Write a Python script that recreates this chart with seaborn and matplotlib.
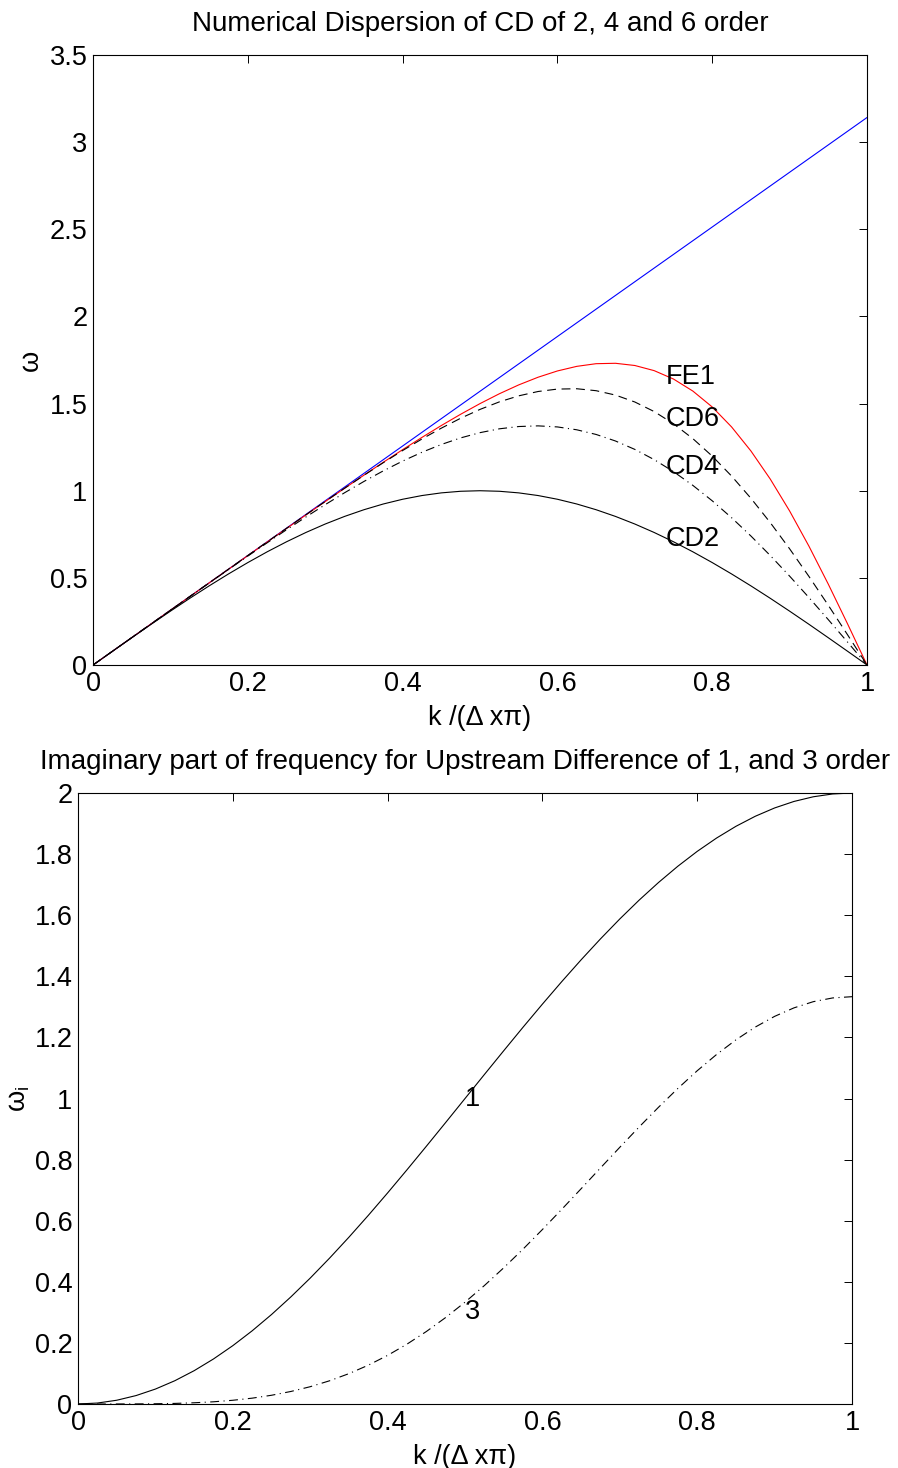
import numpy as np
import matplotlib
matplotlib.use("Agg")
import matplotlib.pyplot as plt
import seaborn as sns

# wavenumber grid k/(dx*pi)
k = np.linspace(0, 1, 41)

# top panel: omega
exact_k = [0, 1]
exact_w = [0, 3.1416]
cd2 = [0, 0.0785, 0.1564, 0.2335, 0.3090, 0.3827, 0.4540, 0.5225, 0.5878, 0.6495,
       0.7071, 0.7604, 0.8090, 0.8526, 0.8910, 0.9239, 0.9511, 0.9724, 0.9877, 0.9969,
       1.0, 0.9969, 0.9877, 0.9724, 0.9511, 0.9239, 0.8910, 0.8526, 0.8090, 0.7604,
       0.7071, 0.6495, 0.5878, 0.5225, 0.4540, 0.3827, 0.3090, 0.2335, 0.1564, 0.0785, 0]
cd4 = [0, 0.0785, 0.1571, 0.2356, 0.3141, 0.3924, 0.4705, 0.5482, 0.6252, 0.7013,
       0.7762, 0.8493, 0.9202, 0.9884, 1.0532, 1.1140, 1.1701, 1.2208, 1.2654, 1.3032,
       1.3333, 1.3553, 1.3684, 1.3722, 1.3661, 1.3497, 1.3229, 1.2854, 1.2372, 1.1785,
       1.1095, 1.0306, 0.9422, 0.8452, 0.7402, 0.6281, 0.5100, 0.3869, 0.2601, 0.1307, 0]
cd6 = [0, 0.0785, 0.1571, 0.2356, 0.3142, 0.3927, 0.4712, 0.5497, 0.6281, 0.7063,
       0.7842, 0.8617, 0.9385, 1.0143, 1.0886, 1.1609, 1.2307, 1.2970, 1.3591, 1.4160,
       1.4667, 1.5099, 1.5445, 1.5694, 1.5833, 1.5852, 1.5740, 1.5489, 1.5092, 1.4543,
       1.3842, 1.2989, 1.1987, 1.0843, 0.9566, 0.8170, 0.6668, 0.5080, 0.3425, 0.1724, 0]
fe1 = [0, 0.0785, 0.1571, 0.2356, 0.3142, 0.3926, 0.4711, 0.5495, 0.6278, 0.7058,
       0.7836, 0.8610, 0.9379, 1.0140, 1.0893, 1.1632, 1.2357, 1.3061, 1.3741, 1.4389,
       1.5, 1.5565, 1.6073, 1.6513, 1.6873, 1.7137, 1.7290, 1.7313, 1.7186, 1.6891,
       1.6408, 1.5718, 1.4806, 1.3662, 1.2281, 1.0668, 0.8838, 0.6815, 0.4636, 0.2347, 0]

# bottom panel: imaginary part
ud1 = [0, 0.0031, 0.0123, 0.0276, 0.0489, 0.0761, 0.1090, 0.1474, 0.1910, 0.2396,
       0.2929, 0.3506, 0.4122, 0.4775, 0.5460, 0.6173, 0.6910, 0.7666, 0.8436, 0.9215,
       1.0, 1.0785, 1.1564, 1.2335, 1.3090, 1.3827, 1.4540, 1.5225, 1.5878, 1.6495,
       1.7071, 1.7604, 1.8090, 1.8526, 1.8910, 1.9239, 1.9511, 1.9724, 1.9877, 1.9969, 2.0]
ud3 = [0, 0.0000, 0.0001, 0.0003, 0.0008, 0.0019, 0.0040, 0.0072, 0.0122, 0.0191,
       0.0286, 0.0410, 0.0566, 0.0760, 0.0994, 0.1270, 0.1592, 0.1959, 0.2372, 0.2831,
       0.3333, 0.3877, 0.4458, 0.5071, 0.5712, 0.6373, 0.7047, 0.7727, 0.8404, 0.9069,
       0.9714, 1.0330, 1.0909, 1.1441, 1.1920, 1.2338, 1.2689, 1.2967, 1.3170, 1.3292, 1.3333]

top_labels = ["FE1", "CD6", "CD4", "CD2"]
top_label_y = [1.65, 1.41, 1.135, 0.725]
bot_labels = ["1", "3"]
bot_label_y = [1.0, 0.3]

sns.set_style("white")
plt.rcParams["font.family"] = ["Liberation Sans", "DejaVu Sans"]
plt.rcParams["mathtext.fontset"] = "custom"
plt.rcParams["mathtext.rm"] = "Liberation Sans"
plt.rcParams["mathtext.it"] = "Liberation Sans"
plt.rcParams["xtick.direction"] = "in"
plt.rcParams["ytick.direction"] = "in"
for key in ("text.color", "axes.labelcolor", "xtick.color", "ytick.color", "axes.edgecolor"):
    plt.rcParams[key] = "black"

DASH = (0, (8, 5))
DASHDOT = (0, (8, 4, 1, 4))
LW = 0.8
FS = 19.5
FS_TITLE = 20

fig = plt.figure(figsize=(8.98, 14.68), dpi=100)
ax1 = fig.add_axes([0.1036, 0.5470, 0.8619, 0.4155])
ax2 = fig.add_axes([0.0869, 0.0436, 0.8619, 0.4162])

sns.lineplot(x=exact_k, y=exact_w, ax=ax1, color="#0000ff", lw=LW)
sns.lineplot(x=k, y=fe1, ax=ax1, color="#ff0000", lw=LW)
sns.lineplot(x=k, y=cd6, ax=ax1, color="k", lw=LW, linestyle=DASH)
sns.lineplot(x=k, y=cd4, ax=ax1, color="k", lw=LW, linestyle=DASHDOT)
sns.lineplot(x=k, y=cd2, ax=ax1, color="k", lw=LW)
for lab, yy in zip(top_labels, top_label_y):
    ax1.text(0.74, yy, lab, fontsize=FS, va="center", ha="left")

sns.lineplot(x=k, y=ud1, ax=ax2, color="k", lw=LW)
sns.lineplot(x=k, y=ud3, ax=ax2, color="k", lw=LW, linestyle=DASHDOT)
for lab, yy in zip(bot_labels, bot_label_y):
    ax2.text(0.5, yy, lab, fontsize=FS, va="center", ha="left")

ax1.set_xlim(0, 1)
ax1.set_ylim(0, 3.5)
ax1.set_xticks([0, 0.2, 0.4, 0.6, 0.8, 1])
ax1.set_xticklabels(["0", "0.2", "0.4", "0.6", "0.8", "1"])
ax1.set_yticks([0, 0.5, 1, 1.5, 2, 2.5, 3, 3.5])
ax1.set_yticklabels(["0", "0.5", "1", "1.5", "2", "2.5", "3", "3.5"])
ax1.set_title("Numerical Dispersion of CD of 2, 4 and 6 order", fontsize=FS_TITLE, pad=17)
ax1.set_ylabel("ω", fontsize=FS)
ax1.yaxis.set_label_coords(-0.063, 0.5)

ax2.set_xlim(0, 1)
ax2.set_ylim(0, 2)
ax2.set_xticks([0, 0.2, 0.4, 0.6, 0.8, 1])
ax2.set_xticklabels(["0", "0.2", "0.4", "0.6", "0.8", "1"])
ax2.set_yticks(np.arange(0, 2.01, 0.2))
ax2.set_yticklabels(["0", "0.2", "0.4", "0.6", "0.8", "1", "1.2", "1.4", "1.6", "1.8", "2"])
ax2.set_title("Imaginary part of frequency for Upstream Difference of 1, and 3 order",
              fontsize=FS_TITLE, pad=17)
ax2.set_ylabel(r"$\omega_i$", fontsize=FS)
ax2.yaxis.set_label_coords(-0.06, 0.5)

for ax in (ax1, ax2):
    ax.set_xlabel("k /(Δ xπ)", fontsize=FS, labelpad=6)
    ax.tick_params(axis="both", which="both", labelsize=FS, length=6, width=0.7,
                   top=True, right=True, color="k", pad=4)
    for sp in ax.spines.values():
        sp.set_visible(True)
        sp.set_color("k")
        sp.set_linewidth(0.8)

fig.savefig("out.png", dpi=100)
